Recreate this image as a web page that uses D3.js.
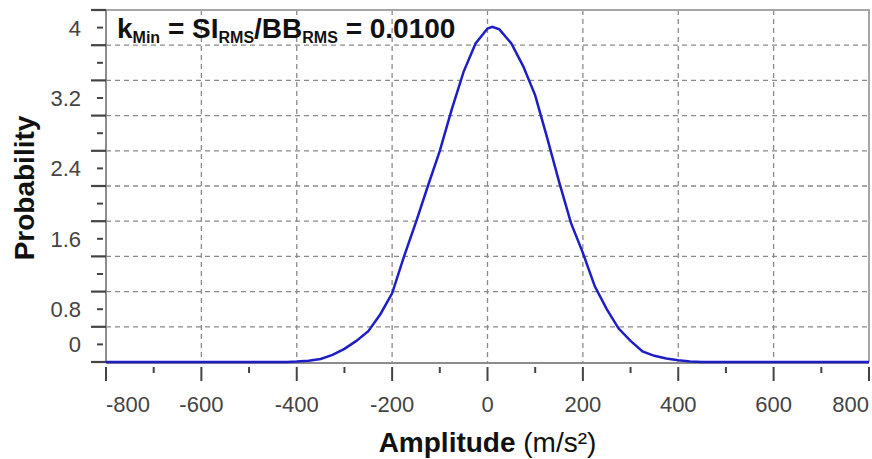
<!DOCTYPE html>
<html lang="en">
<head>
    <meta charset="UTF-8">
    <title>Amplitude probability</title>
    <script src="https://d3js.org/d3.v7.min.js"></script>
    <style>
        body { margin: 0; background: #fff; font-family: Arial, "Liberation Sans", sans-serif; }
        .grid line { stroke: #8a8a8a; stroke-width: 1.3; stroke-dasharray: 5,4; }
        .tick-lbl { font-size: 22px; fill: #444; }
        .curve { fill: none; stroke: #1e1ec4; stroke-width: 2.5; }
    </style>
</head>
<body>
<div id="chart"></div>
<script>
    // amplitude (m/s^2) and probability
    var amplitude = [-800, -450, -420, -400, -375, -350, -325, -300, -275, -250, -225, -200, -175, -150, -125,
                     -100, -75, -50, -25, 0, 10, 25, 50, 75, 100, 125, 150, 175, 200, 225, 250, 275, 300, 325,
                     350, 375, 400, 425, 450, 800];
    var probability = [0, 0, 0, 0.005, 0.015, 0.035, 0.08, 0.15, 0.24, 0.35, 0.54, 0.78, 1.2, 1.59, 2.0,
                       2.4, 2.87, 3.3, 3.62, 3.79, 3.81, 3.78, 3.62, 3.36, 3.03, 2.55, 2.05, 1.58, 1.24, 0.86,
                       0.6, 0.38, 0.24, 0.12, 0.07, 0.04, 0.02, 0.005, 0, 0];

    var xTicks = [-800, -600, -400, -200, 0, 200, 400, 600, 800];
    var xMinorTicks = [-700, -500, -300, -100, 100, 300, 500, 700];
    var yMajorTicks = [0, 0.4, 0.8, 1.2, 1.6, 2.0, 2.4, 2.8, 3.2, 3.6, 4.0];
    var yMinorTicks = [0.2, 0.6, 1.0, 1.4, 1.8, 2.2, 2.6, 3.0, 3.4, 3.8];
    // labels as printed on the original axis, and where they sit
    var yTickLabels = ["0", "0.8", "1.6", "2.4", "3.2", "4"];
    var yLabelAt = [0.2, 0.6, 1.4, 2.2, 3.0, 3.8];

    var W = 872, H = 459;
    var svg = d3.select("#chart").append("svg")
        .attr("width", W)
        .attr("height", H);

    var x = d3.scaleLinear().domain([-800, 800]).range([106, 869]);
    var y = d3.scaleLinear().domain([0, 4]).range([362, 10]);

    // dashed grid
    var grid = svg.append("g").attr("class", "grid");
    grid.selectAll(".h").data(yMajorTicks.slice(1, -1)).enter().append("line")
        .attr("x1", x(-800)).attr("x2", x(800))
        .attr("y1", function(d) { return y(d); })
        .attr("y2", function(d) { return y(d); });
    grid.selectAll(".v").data(xTicks.slice(1, -1)).enter().append("line")
        .attr("x1", function(d) { return x(d); })
        .attr("x2", function(d) { return x(d); })
        .attr("y1", y(4)).attr("y2", y(0));

    // frame
    svg.append("path")
        .attr("d", "M" + x(-800) + "," + y(4) + "H" + x(800) + "V" + y(0))
        .attr("fill", "none").attr("stroke", "#a6a6a6").attr("stroke-width", 2);
    svg.append("line")
        .attr("x1", x(-800)).attr("x2", x(-800)).attr("y1", y(4)).attr("y2", y(0))
        .attr("stroke", "#8c8c8c").attr("stroke-width", 2);
    svg.append("line")
        .attr("x1", x(-800)).attr("x2", x(800)).attr("y1", y(0) + 1).attr("y2", y(0) + 1)
        .attr("stroke", "#8c8c8c").attr("stroke-width", 2);

    // y ticks
    svg.selectAll(".ymaj").data(yMajorTicks).enter().append("line")
        .attr("x1", x(-800) - 15).attr("x2", x(-800))
        .attr("y1", function(d) { return y(d); })
        .attr("y2", function(d) { return y(d); })
        .attr("stroke", "#444").attr("stroke-width", 2.2);
    svg.selectAll(".ymin").data(yMinorTicks).enter().append("line")
        .attr("x1", x(-800) - 9).attr("x2", x(-800) - 3)
        .attr("y1", function(d) { return y(d); })
        .attr("y2", function(d) { return y(d); })
        .attr("stroke", "#444").attr("stroke-width", 2);
    svg.selectAll(".ylbl").data(yTickLabels).enter().append("text")
        .attr("class", "tick-lbl")
        .attr("x", 81)
        .attr("y", function(d, i) { return y(yLabelAt[i]); })
        .attr("dy", "0.36em")
        .attr("text-anchor", "end")
        .text(function(d) { return d; });

    // x ticks
    svg.selectAll(".xmaj").data(xTicks).enter().append("line")
        .attr("x1", function(d) { return x(d); })
        .attr("x2", function(d) { return x(d); })
        .attr("y1", 367).attr("y2", 381)
        .attr("stroke", "#444").attr("stroke-width", 2);
    svg.selectAll(".xmin").data(xMinorTicks).enter().append("line")
        .attr("x1", function(d) { return x(d); })
        .attr("x2", function(d) { return x(d); })
        .attr("y1", 367).attr("y2", 373)
        .attr("stroke", "#444").attr("stroke-width", 2);
    svg.selectAll(".xlbl").data(xTicks).enter().append("text")
        .attr("class", "tick-lbl")
        .attr("x", function(d) { return x(d); })
        .attr("y", 412)
        .attr("text-anchor", function(d, i) {
            return i === 0 ? "start" : (i === xTicks.length - 1 ? "end" : "middle");
        })
        .text(function(d) { return d; });

    // curve
    var pts = amplitude.map(function(a, i) { return [a, probability[i]]; });
    var line = d3.line()
        .x(function(d) { return x(d[0]); })
        .y(function(d) { return y(d[1]); });
    svg.append("path")
        .datum(pts)
        .attr("class", "curve")
        .attr("d", line);

    // title inside the plot
    var t = svg.append("text")
        .attr("x", 117).attr("y", 38)
        .style("font-weight", "bold").style("font-size", "28px").attr("fill", "#111");
    t.append("tspan").text("k");
    t.append("tspan").attr("dy", 5).style("font-size", "16px").text("Min");
    t.append("tspan").attr("dy", -5).text(" = SI");
    t.append("tspan").attr("dy", 5).style("font-size", "16px").text("RMS");
    t.append("tspan").attr("dy", -5).text("/BB");
    t.append("tspan").attr("dy", 5).style("font-size", "16px").text("RMS");
    t.append("tspan").attr("dy", -5).text(" = 0.0100");

    // axis titles
    svg.append("text")
        .attr("transform", "translate(34,188) rotate(-90)")
        .attr("text-anchor", "middle")
        .style("font-weight", "bold").style("font-size", "28px").attr("fill", "#111")
        .text("Probability");

    var xl = svg.append("text")
        .attr("x", x(0)).attr("y", 452)
        .attr("text-anchor", "middle")
        .style("font-size", "28px").attr("fill", "#111");
    xl.append("tspan").style("font-weight", "bold").text("Amplitude");
    xl.append("tspan").text(" (m/s²)");
</script>
</body>
</html>
